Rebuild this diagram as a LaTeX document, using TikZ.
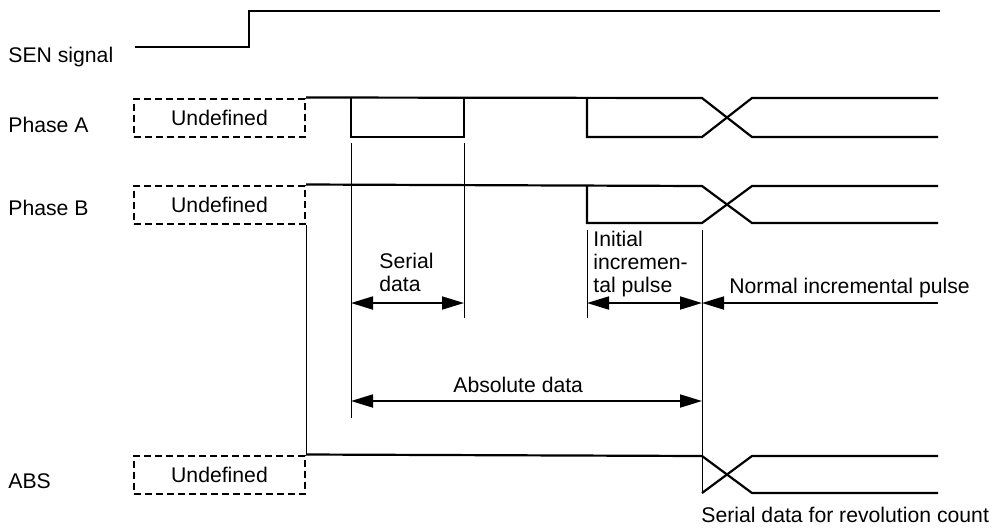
\documentclass[tikz,border=0pt]{standalone}
\usepackage{fontspec}
\setmainfont{Liberation Sans}
\usepackage{tikz}
\usetikzlibrary{arrows.meta}
\tikzset{
  sig/.style={line width=1.1pt},
  guide/.style={line width=0.5pt},
  dim/.style={line width=0.9pt,{Triangle[length=11pt,width=6.5pt]}-{Triangle[length=11pt,width=6.5pt]}},
  dimleft/.style={line width=0.9pt,-{Triangle[length=11pt,width=6.5pt]}},
  undef/.style={draw,dash pattern=on 3.5pt off 2pt,line width=1pt,minimum width=85.5pt,minimum height=19pt,inner sep=0pt},
  lbl/.style={anchor=base west,inner sep=0pt,align=left}
}
\begin{document}
\begin{tikzpicture}[x=0.5pt,y=-0.5pt,font=\fontsize{10.6}{11.5}\selectfont]
\useasboundingbox (0,0) rectangle (992,527);
\node[lbl] (senlbl) at (8,62) {SEN signal};
\node[lbl] (albl) at (8,132) {Phase A};
\node[lbl] (blbl) at (8,215) {Phase B};
\node[lbl] (abslbl) at (8,488) {ABS};
\node[undef] (undefA) at (219.5,117.5) {Undefined};
\node[undef] (undefB) at (219.5,204.5) {Undefined};
\node[undef] (undefABS) at (219.5,474.5) {Undefined};
\coordinate (sena) at (135,47);
\coordinate (senb) at (940,11);
\draw[sig] (sena) -- (249,47) -- (249,11) -- (senb);
\draw[sig] (undefA.north east) -- (702,98) -- (752,137) -- (938,137);
\draw[sig] (351,98) -- (351,137) -- (464,137) -- (464,98);
\draw[sig] (587,98) -- (587,137) -- (702,137) -- (752,98) -- (938,98);
\draw[sig] (undefB.north east) -- (702,186) -- (752,223) -- (938,223);
\draw[sig] (587,186) -- (587,223) -- (702,223) -- (752,186) -- (938,186);
\draw[sig] (undefABS.north east) -- (702,456) -- (752,493) -- (938,493);
\draw[sig] (702,493) -- (752,456) -- (938,456);
\draw[guide] (undefB.south east) -- (undefABS.north east);
\draw[guide] (351,143) -- (351,418);
\draw[guide] (464,143) -- (464,318);
\draw[guide] (587,230) -- (587,318);
\draw[guide] (702,230) -- (702,493);
\coordinate (serl) at (351,303);
\coordinate (serr) at (464,303);
\coordinate (inil) at (587,303);
\coordinate (inir) at (702,303);
\coordinate (norr) at (938,303);
\coordinate (absl) at (351,401);
\coordinate (absr) at (702,401);
\draw[dim] (serl) -- (serr);
\draw[dim] (inil) -- (inir);
\draw[dimleft] (norr) -- (inir);
\draw[dim] (absl) -- (absr);
\node[lbl] (serlbl) at (379,291) {Serial\\data};
\node[lbl] (inilbl) at (593,292) {Initial\\incremen-\\tal pulse};
\node[lbl] (norlbl) at (729,293) {Normal incremental pulse};
\node[lbl] (abslbl2) at (453,392) {Absolute data};
\node[lbl] (revlbl) at (701,522) {Serial data for revolution count};
\end{tikzpicture}
\end{document}
